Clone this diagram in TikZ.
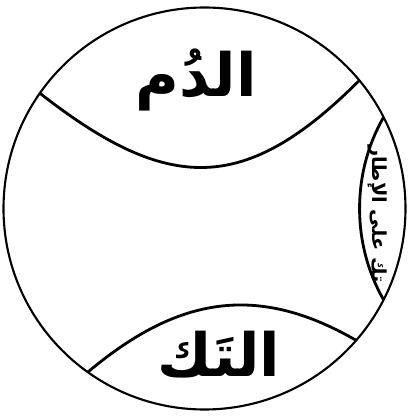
\documentclass[tikz,border=0pt]{standalone}
\usepackage{fontspec}
\usetikzlibrary{calc}
\newfontfamily\arabicfont[Script=Arabic]{DejaVu Sans}
\TeXXeTstate=1

\begin{document}
\begin{tikzpicture}[x=0.02cm, y=0.02cm,
  rim/.style={line width=1.2pt},
  seam/.style={line width=1.6pt},
  lbl/.style={font=\arabicfont\bfseries\fontsize{34}{40}\selectfont, inner sep=0pt},
  small lbl/.style={font=\arabicfont\bfseries\fontsize{11}{13}\selectfont, inner sep=0pt}]
  \useasboundingbox (0,0) rectangle (410,416);

  % drum head
  \coordinate (c) at (204.5,207.5);
  \draw[rim] (c) circle (201);

  % where the seams meet the rim
  \coordinate (dl) at ($(c)+(145:201)$);
  \coordinate (dr) at ($(c)+(39.6:201)$);
  \coordinate (tl) at ($(c)+(234.5:201)$);
  \coordinate (tr) at ($(c)+(-41:201)$);
  \coordinate (fa) at ($(c)+(27:201)$);
  \coordinate (fb) at ($(c)+(-27:201)$);

  % seams
  \draw[seam] (dl) to[out=-38, in=-135, looseness=1.3] (dr);
  \draw[seam] (tl) to[out=40, in=150, looseness=1.1] (tr);
  \draw[seam] (fa) to[out=-120, in=120, looseness=0.9] (fb);

  % labels
  \node[lbl] (dum) at (196,336) {\beginR الدُم\endR};
  \node[lbl] (tak) at (219,61) {\beginR التَك\endR};
  \node[small lbl, rotate=-90] (frame) at (377,202) {\beginR تك على الإطار\endR};
\end{tikzpicture}
\end{document}
